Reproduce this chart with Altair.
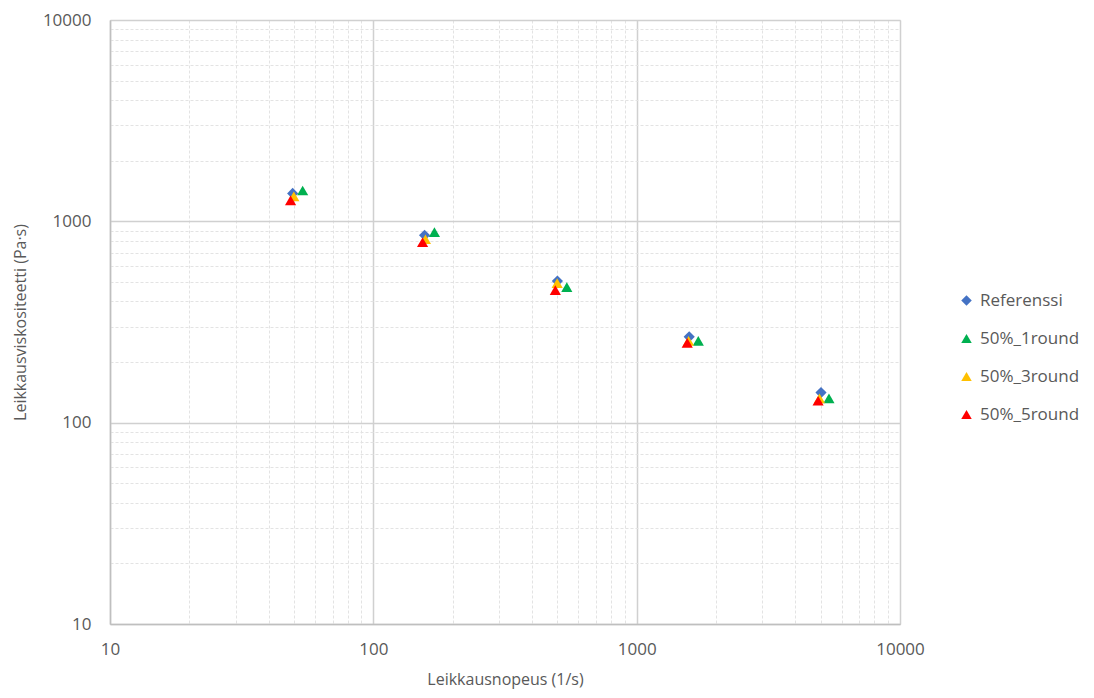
import altair as alt
import pandas as pd

series_names = ["Referenssi", "50%_1round", "50%_3round", "50%_5round"]

ref_x = [49.4, 156.5, 500, 1583, 5012]
ref_y = [1376, 853, 505, 267, 141]

r1_x = [53.9, 170.6, 543, 1714, 5373]
r1_y = [1423, 883, 471, 255, 132]

r3_x = [49.9, 157.7, 499, 1574, 4945]
r3_y = [1330, 815, 493, 255, 132]

r5_x = [48.5, 153.8, 491, 1556, 4887]
r5_y = [1270, 787, 455, 249, 128.5]

colors = ["#4472C4", "#00B050", "#FFC000", "#FF0000"]
shapes = ["diamond", "triangle-up", "triangle-up", "triangle-up"]

major = [10, 100, 1000, 10000]
grid_vals = []
for d in [10, 100, 1000]:
    for m in range(1, 10):
        grid_vals.append(d * m)
grid_vals.append(10000)

rows = []
for name, xs, ys in zip(series_names, [ref_x, r1_x, r3_x, r5_x], [ref_y, r1_y, r3_y, r5_y]):
    for xv, yv in zip(xs, ys):
        rows.append({"series": name, "x": xv, "y": yv})
df = pd.DataFrame(rows)

font = "Open Sans"
txt = "#595959"
major_test = "indexof([10,100,1000,10000], datum.value) < 0"

def make_axis(title, label_pad, title_pad):
    return alt.Axis(
        title=title,
        values=grid_vals,
        format="d",
        labelExpr="indexof([10,100,1000,10000], datum.value) >= 0 ? datum.label : ''",
        ticks=False,
        labelFont=font,
        labelFontSize=17,
        labelColor=txt,
        labelPadding=label_pad,
        titleFont=font,
        titleFontSize=16,
        titleFontWeight="normal",
        titleColor=txt,
        titlePadding=title_pad,
        domainColor="#bfbfbf",
        domainWidth=1.5,
        gridColor={"condition": {"test": major_test, "value": "#e3e3e3"}, "value": "#d0d0d0"},
        gridDash={"condition": {"test": major_test, "value": [3, 2]}, "value": []},
        gridWidth={"condition": {"test": major_test, "value": 1}, "value": 1.5},
        labelOverlap=False,
        labelFlush=False,
    )

chart = alt.Chart(df).mark_point(filled=True, opacity=1, size=125).encode(
    x=alt.X("x:Q", scale=alt.Scale(type="log", domain=[10, 10000], nice=False),
            axis=make_axis("Leikkausnopeus (1/s)", 17, 14)),
    y=alt.Y("y:Q", scale=alt.Scale(type="log", domain=[10, 10000], nice=False),
            axis=make_axis("Leikkausviskositeetti (Pa·s)", 19, 14)),
    color=alt.Color("series:N", scale=alt.Scale(domain=series_names, range=colors),
                    legend=alt.Legend(title=None, orient="none", legendX=848, legendY=272,
                                      labelFont=font, labelFontSize=17, labelColor=txt,
                                      rowPadding=20, symbolSize=110, labelOffset=5)),
    shape=alt.Shape("series:N", scale=alt.Scale(domain=series_names, range=shapes), legend=None),
    order=alt.Order("order:Q"),
).transform_calculate(
    order="indexof(['Referenssi','50%_1round','50%_3round','50%_5round'], datum.series)"
).properties(
    width=790,
    height=604,
    autosize=alt.AutoSizeParams(type="none"),
    padding={"left": 102, "top": 12, "right": 180, "bottom": 66},
).configure_view(stroke=None).configure(background="white")

chart.save("out.html", embed_options={"renderer": "svg", "actions": False})
